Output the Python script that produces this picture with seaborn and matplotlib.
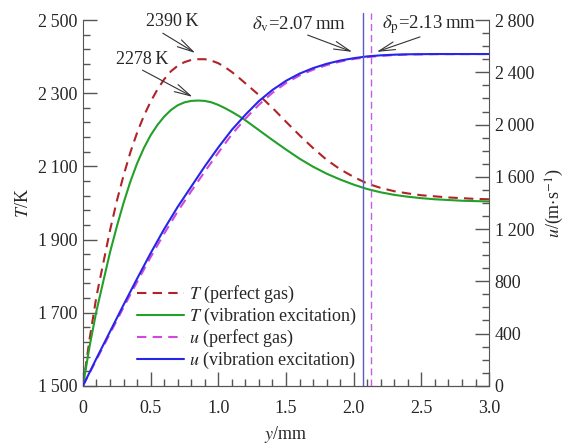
import numpy as np
import pandas as pd
import matplotlib
matplotlib.use('Agg')
import matplotlib.pyplot as plt
from matplotlib.ticker import MultipleLocator, FuncFormatter
import seaborn as sns

# T profiles (K) against y (mm)
y_T = [0, 0.05, 0.1, 0.15, 0.2, 0.25, 0.3, 0.35, 0.4, 0.45, 0.5, 0.55, 0.6,
       0.65, 0.7, 0.75, 0.8, 0.85, 0.9, 0.95, 1.0, 1.05, 1.1, 1.15, 1.2, 1.3,
       1.4, 1.5, 1.6, 1.7, 1.8, 1.9, 2.0, 2.1, 2.2, 2.3, 2.4, 2.5, 2.6, 2.7,
       2.8, 2.9, 3.0]
T_perfect = [1500, 1630, 1745, 1835, 1925, 2005, 2075, 2138, 2192, 2238, 2277,
             2310, 2338, 2360, 2375, 2385, 2391, 2393, 2393, 2389, 2382, 2371,
             2358, 2343, 2327, 2295, 2260, 2222, 2185, 2150, 2118, 2092, 2071,
             2053, 2041, 2032, 2026, 2021, 2018, 2015, 2013, 2011, 2010]
T_vib = [1500, 1610, 1705, 1785, 1865, 1935, 2000, 2058, 2108, 2150, 2185,
         2213, 2236, 2254, 2267, 2275, 2279, 2280, 2279, 2275, 2268, 2259,
         2249, 2238, 2226, 2199, 2172, 2146, 2121, 2099, 2080, 2064, 2050,
         2038, 2029, 2022, 2017, 2013, 2010, 2008, 2006, 2005, 2004]

# u profiles (m/s) against y (mm)
y_u = [0, 0.1, 0.2, 0.3, 0.4, 0.5, 0.6, 0.7, 0.8, 0.9, 1.0, 1.1, 1.2, 1.3,
       1.4, 1.5, 1.6, 1.7, 1.8, 1.9, 2.0, 2.1, 2.2, 2.3, 2.4, 2.6, 3.0]
u_perfect = [0, 200, 400, 600, 795, 985, 1165, 1335, 1490, 1640, 1785, 1925,
             2045, 2152, 2243, 2318, 2376, 2420, 2455, 2482, 2502, 2516, 2526,
             2532, 2536, 2539, 2540]
u_vib = [0, 210, 415, 620, 820, 1015, 1200, 1370, 1525, 1680, 1825, 1960,
         2075, 2180, 2265, 2335, 2390, 2432, 2465, 2490, 2508, 2522, 2530,
         2535, 2538, 2540, 2540]

delta_v = 2.07
delta_p = 2.13

C_RED = '#b02428'
C_GREEN = '#22a02a'
C_MAG = '#d048e0'
C_BLUE = '#2626e8'


def thin_fmt(v, pos):
    v = int(round(v))
    if v >= 1000:
        return f"{v // 1000}\u2009{v % 1000:03d}"
    return str(v)


def main():
    sns.set_style('ticks')
    plt.rcParams['font.family'] = ['Liberation Serif', 'DejaVu Serif']
    plt.rcParams['mathtext.fontset'] = 'stix'
    plt.rcParams['font.size'] = 13

    dT = pd.DataFrame({'y': y_T, 'Tp': T_perfect, 'Tv': T_vib})
    du = pd.DataFrame({'y': y_u, 'up': u_perfect, 'uv': u_vib})

    fig = plt.figure(figsize=(5.72, 4.46), dpi=100)
    ax = fig.add_axes([0.145, 0.135, 0.71, 0.82])
    ax2 = ax.twinx()

    sns.lineplot(data=dT, x='y', y='Tp', ax=ax, color=C_RED, linewidth=1.5,
                 linestyle=(0, (4.5, 3)), label='$T$ (perfect gas)')
    sns.lineplot(data=dT, x='y', y='Tv', ax=ax, color=C_GREEN, linewidth=1.5,
                 label='$T$ (vibration excitation)')
    sns.lineplot(data=du, x='y', y='up', ax=ax2, color=C_MAG, linewidth=1.5,
                 linestyle=(0, (4.5, 3)), label='$u$ (perfect gas)')
    sns.lineplot(data=du, x='y', y='uv', ax=ax2, color=C_BLUE, linewidth=1.5,
                 label='$u$ (vibration excitation)')

    ax2.axvline(delta_v, ymin=0, ymax=1.02, color='#5a5ac8', linewidth=1.0,
                clip_on=False)
    ax2.axvline(delta_p, ymin=0, ymax=1.02, color='#c060e0', linewidth=1.0,
                linestyle=(0, (5, 3)), clip_on=False)

    ax.set_xlim(0, 3.0)
    ax.set_ylim(1500, 2500)
    ax2.set_ylim(0, 2800)

    ax.xaxis.set_major_locator(MultipleLocator(0.5))
    ax.xaxis.set_minor_locator(MultipleLocator(0.1))
    ax.yaxis.set_major_locator(MultipleLocator(200, offset=100))
    ax.yaxis.set_minor_locator(MultipleLocator(40, offset=20))
    ax2.yaxis.set_major_locator(MultipleLocator(400))
    ax2.yaxis.set_minor_locator(MultipleLocator(100))
    ax.xaxis.set_major_formatter(FuncFormatter(lambda v, p: '0' if v == 0 else f'{v:.1f}'))
    ax.yaxis.set_major_formatter(FuncFormatter(thin_fmt))
    ax2.yaxis.set_major_formatter(FuncFormatter(thin_fmt))

    for a in (ax, ax2):
        a.tick_params(which='major', direction='in', length=10, width=1,
                      color='#555555', labelsize=13, pad=4)
        a.tick_params(which='minor', direction='in', length=5, width=1,
                      color='#555555')
        a.spines['top'].set_visible(False)
        for s in a.spines.values():
            s.set_color('#555555')
    ax.tick_params(axis='x', which='major', pad=10)
    ax.spines['right'].set_visible(False)
    ax2.spines['left'].set_visible(False)

    ax.set_xlabel('$y$/mm', fontsize=13, labelpad=5)
    ax.set_ylabel('$T$/K', fontsize=13, labelpad=4)
    ax2.set_ylabel('$u$/(m$\\cdot$s$^{-1}$)', fontsize=13, labelpad=7)

    # callouts: text, then arrow from tail to head
    arr = dict(arrowstyle='->,head_length=0.9,head_width=0.22', color='#333333',
               lw=0.8, shrinkA=0, shrinkB=0)
    notes = [
        ('2390\u2009K', (0.66, 2495), (0.59, 2464), (0.83, 2410), 13),
        ('2278\u2009K', (0.44, 2391), (0.44, 2363), (0.81, 2290), 13),
        ('$\\delta_{\\mathrm{v}}$=2.07\u2009mm', (1.60, 2490), (1.66, 2459),
         (1.99, 2413), 13.5),
        ('$\\delta_{\\mathrm{p}}$=2.13\u2009mm', (2.56, 2488), (2.49, 2454),
         (2.17, 2413), 13.5),
    ]
    for txt, pos, tail, head, fs in notes:
        ax.text(pos[0], pos[1], txt, ha='center', va='center', fontsize=fs)
        ax.annotate('', xy=head, xytext=tail, arrowprops=arr)

    h1, l1 = ax.get_legend_handles_labels()
    h2, l2 = ax2.get_legend_handles_labels()
    if ax.get_legend() is not None:
        ax.get_legend().remove()
    if ax2.get_legend() is not None:
        ax2.get_legend().remove()
    ax2.legend(h1 + h2, l1 + l2, loc='lower left', bbox_to_anchor=(0.11, 0.015),
               frameon=False, fontsize=13, handlelength=2.6, handletextpad=0.3,
               labelspacing=0.05, borderpad=0)

    fig.savefig('out.png', dpi=100)
    plt.close(fig)


if __name__ == '__main__':
    main()
